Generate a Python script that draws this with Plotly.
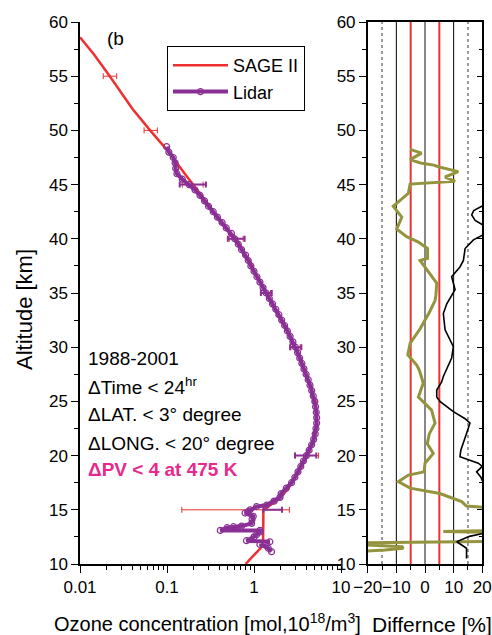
import plotly.graph_objects as go

# ---------------- data ----------------
sage_alt = [58.6, 57, 55, 52, 50, 48, 46, 45, 44, 42, 40, 38, 36, 35, 34, 32, 30, 28, 26, 25, 24, 23, 22, 21, 20,
            19, 18, 17, 16, 15.3, 15, 14, 13, 12, 11.5, 11, 10]
sage_o3 = [0.010, 0.0145, 0.022, 0.040, 0.064, 0.105, 0.160, 0.20, 0.25, 0.38, 0.62, 0.88, 1.18, 1.36, 1.65, 2.2,
           3.0, 3.8, 4.6, 5.0, 5.2, 5.25, 5.1, 4.7, 4.1, 3.55, 3.0, 2.5, 1.95, 1.45, 1.28, 1.28, 1.28, 1.27, 1.2,
           1.05, 0.80]

lidar_alt = [48.5, 48.0, 47.5, 47.0, 46.5, 46.0, 45.5, 45.0, 44.5, 44.0, 43.5, 43.0, 42.5, 42.0, 41.5, 41.0, 40.5,
             40.0, 39.5, 39.0, 38.5, 38.0, 37.5, 37.0, 36.5, 36.0, 35.5, 35.0, 34.5, 34.0, 33.5, 33.0, 32.5, 32.0,
             31.5, 31.0, 30.5, 30.0, 29.5, 29.0, 28.5, 28.0, 27.5, 27.0, 26.5, 26.0, 25.5, 25.0, 24.5, 24.0, 23.5,
             23.0, 22.5, 22.0, 21.5, 21.0, 20.5, 20.0, 19.5, 19.0, 18.5, 18.0, 17.5, 17.0, 16.5, 16.15, 15.8, 15.44,
             15.3, 15.0, 14.83, 14.7, 14.4, 14.1, 13.75, 13.5, 13.44, 13.35, 13.1, 13.1, 12.95, 12.7, 12.5, 12.15,
             12.05, 11.8, 11.45, 11.14]
lidar_o3 = [0.099, 0.105, 0.118, 0.124, 0.126, 0.130, 0.150, 0.180, 0.21, 0.24, 0.27, 0.30, 0.34, 0.38, 0.43, 0.48,
            0.55, 0.60, 0.66, 0.72, 0.80, 0.86, 0.92, 1.0, 1.08, 1.17, 1.27, 1.38, 1.5, 1.63, 1.78, 1.93, 2.08, 2.25,
            2.42, 2.6, 2.8, 3.0, 3.17, 3.35, 3.55, 3.75, 3.97, 4.2, 4.4, 4.6, 4.8, 5.0, 5.1, 5.2, 5.25, 5.25, 5.15,
            5.05, 4.85, 4.6, 4.3, 4.0, 3.7, 3.45, 3.2, 2.95, 2.7, 2.35, 2.05, 1.99, 1.7, 1.4,
            1.07, 0.9, 0.86, 0.79, 0.98, 0.95, 0.94, 0.72, 0.58, 0.49, 0.41, 1.17,
            1.17, 1.07, 1.0, 0.82, 1.52, 1.17, 1.46, 1.59]

# error bars (altitude, centre, low, high)
sage_err_alt = [55, 50, 45, 40, 35, 30, 25, 20, 15]
sage_err_c = [0.022, 0.065, 0.20, 0.62, 1.36, 3.0, 5.0, 4.1, 1.28]
sage_err_lo = [0.0185, 0.0545, 0.15, 0.52, 1.2, 2.65, 4.8, 3.0, 0.148]
sage_err_hi = [0.0264, 0.0775, 0.26, 0.75, 1.55, 3.4, 5.2, 5.5, 2.55]

lidar_err_alt = [45, 40, 35, 30, 20, 15]
lidar_err_c = [0.19, 0.62, 1.37, 3.0, 4.0, 1.62]
lidar_err_lo = [0.14, 0.50, 1.2, 2.6, 2.96, 1.28]
lidar_err_hi = [0.28, 0.78, 1.6, 3.5, 5.2, 2.1]

# difference panel
diff1_alt = [48.25, 47.9, 47.3, 47.0, 46.8, 46.65, 46.2, 45.7, 45.3, 45.05, 44.2, 43.0, 42.0, 40.9, 40.2, 39.7,
             39.1, 38.2, 38.0, 35.9, 34.8, 34.3, 33.2, 32.2, 31.7, 30.35, 29.3, 28.35, 27.9, 26.7, 25.4, 24.2,
             23.0, 22.0, 21.1, 20.2, 19.3, 18.5, 18.2, 17.6, 17.0, 16.5, 15.75, 15.35, 15.2, 15.1, 13.1, 13.0,
             12.9, 12.1, 11.95, 11.75, 11.6, 11.45, 11.3, 11.15, 11.1]
diff1_val = [-5.2, -1.2, -5.2, -1.6, 3.1, 4.6, 11.6, 7.0, 10.5, -5.2, -5.8, -11.1, -8.1, -9.9, -6.4, -2.3,
             0.9, 0.9, -1.7, 4.1, 3.8, 3.5, 1.5, -0.6, -1.7, -5.2, -6.0, -2.9, -2.0, -0.6, -2.3, 2.3,
             3.5, 1.5, 0.8, 2.9, 0.0, -0.3, -5.8, -9.3, -5.2, 5.2, 12.8, 14.5, 20.0, 26.0, 26.0, 6.4,
             26.0, 26.0, -26.0, -20.0, -8.0, -7.6, -14.0, -20.0, -26.0]

diff2_alt = [43.2, 43.0, 42.6, 42.2, 41.7, 41.3, 41.0, 40.6, 40.3, 39.9, 39.1, 38.0, 37.4, 36.9, 36.5, 35.3, 34.0,
             33.1, 31.6, 30.05, 29.0, 27.3, 26.8, 26.05, 25.4, 25.0, 24.05, 23.4, 23.0, 22.05, 21.1, 20.5, 19.9,
             19.6, 19.3, 19.0, 18.7, 18.5, 18.0, 17.7, 17.5, 12.9, 12.75, 12.55, 12.05, 11.7, 11.45, 10.5]
diff2_val = [22, 19.8, 17.0, 16.3, 17.5, 20, 22, 22, 20, 16.9, 14.0, 13.4, 12.2, 10.5, 9.3, 10.5, 7.6,
             6.4, 7.0, 9.9, 9.3, 6.4, 5.8, 4.1, 4.1, 5.2, 9.9, 14.0, 15.7, 14.5, 13.4, 12.5, 12.2,
             15.5, 18.6, 20, 19, 18.0, 19.5, 20, 22, 22, 19, 15.5, 11.1, 13, 14.5, 14.5]

x_tickvals = [0.01, 0.1, 1, 10]
x_ticktext = ["0.01", "0.1", "1", "10"]
d_tickvals = [-20, -10, 0, 10, 20]
d_ticktext = ["\u221220", "\u221210", "0", "10", "20"]
y_tickvals = [10, 15, 20, 25, 30, 35, 40, 45, 50, 55, 60]

RED = "#EE3030"
PURPLE = "#8A3095"
OLIVE = "#94943F"
PINK = "#E8288C"
FONT = "Liberation Sans, Arial, sans-serif"

fig = go.Figure()

fig.add_trace(go.Scatter(x=sage_o3, y=sage_alt, mode="lines", name="SAGE II",
                         line=dict(color=RED, width=2.5), xaxis="x", yaxis="y"))
fig.add_trace(go.Scatter(
    x=sage_err_c, y=sage_err_alt, mode="markers", showlegend=False,
    marker=dict(size=1, color=RED),
    error_x=dict(type="data", symmetric=False,
                 array=[h - c for h, c in zip(sage_err_hi, sage_err_c)],
                 arrayminus=[c - l for c, l in zip(sage_err_c, sage_err_lo)],
                 color=RED, thickness=1, width=3),
    xaxis="x", yaxis="y"))
fig.add_trace(go.Scatter(x=lidar_o3, y=lidar_alt, mode="lines+markers", name="Lidar",
                         line=dict(color=PURPLE, width=4),
                         marker=dict(symbol="circle-open", size=6, color=PURPLE, line=dict(width=1.2)),
                         xaxis="x", yaxis="y"))
fig.add_trace(go.Scatter(
    x=lidar_err_c, y=lidar_err_alt, mode="markers", showlegend=False,
    marker=dict(size=1, color=PURPLE),
    error_x=dict(type="data", symmetric=False,
                 array=[h - c for h, c in zip(lidar_err_hi, lidar_err_c)],
                 arrayminus=[c - l for c, l in zip(lidar_err_c, lidar_err_lo)],
                 color=PURPLE, thickness=2, width=3),
    xaxis="x", yaxis="y"))

fig.add_trace(go.Scatter(x=diff1_val, y=diff1_alt, mode="lines", showlegend=False,
                         line=dict(color=OLIVE, width=3), xaxis="x2", yaxis="y2"))
fig.add_trace(go.Scatter(x=diff2_val, y=diff2_alt, mode="lines", showlegend=False,
                         line=dict(color="black", width=1.6), xaxis="x2", yaxis="y2"))
fig.add_trace(go.Scatter(x=[None], y=[None], showlegend=False, xaxis="x2", yaxis="y3"))

# reference lines in the difference panel
vlines = [(-15, "black", 0.8, "dot"), (-10, "black", 1, "solid"), (-5, RED, 2, "solid"),
          (0, "#888888", 2, "solid"), (5, RED, 2, "solid"), (10, "black", 1, "solid"),
          (15, "black", 0.8, "dot")]
shapes = []
for xv, col, w, dash in vlines:
    shapes.append(dict(type="line", xref="x2", yref="y2 domain", x0=xv, x1=xv, y0=0, y1=1,
                       line=dict(color=col, width=w, dash=dash), layer="below"))

tickfont = dict(family=FONT, size=17, color="black")
dom_y = [1 - 564 / 635, 1 - 22 / 635]

fig.update_layout(
    template="none",
    width=492, height=635, margin=dict(l=0, r=0, t=0, b=0, autoexpand=False),
    paper_bgcolor="white", plot_bgcolor="rgba(0,0,0,0)",
    font=dict(family=FONT, color="black"),
    shapes=shapes,
    xaxis=dict(type="log", domain=[80 / 492, 341 / 492], range=[-2, 1], anchor="y", automargin=False,
               tickmode="array", tickvals=x_tickvals, ticktext=x_ticktext, tickangle=0,
               ticks="outside", ticklen=7, tickwidth=1.2, tickcolor="black", showline=True,
               linecolor="black", linewidth=1.5, showgrid=False, zeroline=False, tickfont=tickfont,
               minor=dict(ticks="outside", ticklen=4, dtick="D1", tickcolor="black", showgrid=False)),
    yaxis=dict(domain=dom_y, range=[10, 60], anchor="x", tickmode="array", tickvals=y_tickvals,
               automargin=False,
               ticks="outside", ticklen=7, tickwidth=1.2, tickcolor="black", showline=True,
               linecolor="black", linewidth=1.5, showgrid=False, zeroline=False, tickfont=tickfont,
               minor=dict(ticks="outside", ticklen=4, dtick=2.5, tickcolor="black", showgrid=False)),
    xaxis2=dict(domain=[367.7 / 492, 482.3 / 492], range=[-20, 20], anchor="y2", automargin=False,
                tickmode="array", tickvals=d_tickvals, ticktext=d_ticktext, tickangle=0,
                ticks="outside", ticklen=7, tickwidth=1.2,
                tickcolor="black", showline=True, mirror=True, linecolor="black", linewidth=1.5,
                showgrid=False, zeroline=False, tickfont=tickfont,
                minor=dict(ticks="outside", ticklen=4, dtick=5, tickcolor="black", showgrid=False)),
    yaxis2=dict(domain=dom_y, range=[10, 60], anchor="x2", tickmode="array", tickvals=y_tickvals,
                automargin=False,
                ticks="outside", ticklen=7, tickwidth=1.2, tickcolor="black", showline=True,
                mirror=True, linecolor="black", linewidth=1.5, showgrid=False, zeroline=False,
                tickfont=tickfont,
                minor=dict(ticks="outside", ticklen=4, dtick=2.5, tickcolor="black", showgrid=False)),
    yaxis3=dict(domain=dom_y, range=[10, 60], anchor="x2", overlaying="y2", side="right",
                automargin=False,
                tickmode="array", tickvals=y_tickvals, ticks="inside", ticklen=5, tickwidth=1.2,
                tickcolor="black", showticklabels=False, showline=False, showgrid=False,
                zeroline=False,
                minor=dict(ticks="inside", ticklen=3, dtick=2.5, tickcolor="black", showgrid=False)),
    legend=dict(x=167 / 492, y=1 - 46 / 635, xanchor="left", yanchor="top",
                bordercolor="black", borderwidth=1, bgcolor="white",
                font=dict(family=FONT, size=18, color="black"),
                itemwidth=55, entrywidth=150, tracegroupgap=0),
)

ann = [
    dict(text="(b", x=105 / 492, y=1 - 38 / 635, xanchor="left", yanchor="middle", font=dict(size=19)),
    dict(text="1988-2001", x=86 / 492, y=1 - 358 / 635, xanchor="left", yanchor="middle", font=dict(size=19)),
    dict(text="\u0394Time &lt; 24<sup>hr</sup>", x=86 / 492, y=1 - 386 / 635, xanchor="left",
         yanchor="middle", font=dict(size=19)),
    dict(text="\u0394LAT. &lt; 3\u00b0 degree", x=86 / 492, y=1 - 415 / 635, xanchor="left",
         yanchor="middle", font=dict(size=19)),
    dict(text="\u0394LONG. &lt; 20\u00b0 degree", x=86 / 492, y=1 - 443 / 635, xanchor="left",
         yanchor="middle", font=dict(size=19)),
    dict(text="<b>\u0394PV &lt; 4 at 475 K</b>", x=86 / 492, y=1 - 469 / 635, xanchor="left",
         yanchor="middle", font=dict(size=19, color=PINK)),
    dict(text="Altitude [km]", x=24 / 492, y=1 - 310 / 635, xanchor="center", yanchor="middle",
         textangle=-90, font=dict(size=22)),
    dict(text="Ozone concentration [mol,10<sup>18</sup>/m<sup>3</sup>]", x=52 / 492, y=1 - 622 / 635,
         xanchor="left", yanchor="middle", font=dict(size=20)),
    dict(text="Differnce [%]", x=370 / 492, y=1 - 624 / 635, xanchor="left", yanchor="middle",
         font=dict(size=21)),
]
for a in ann:
    a.update(xref="paper", yref="paper", showarrow=False)
    a["font"] = dict(family=FONT, color=a["font"].get("color", "black"), size=a["font"]["size"])
fig.update_layout(annotations=ann)

fig.write_html("out.html")
